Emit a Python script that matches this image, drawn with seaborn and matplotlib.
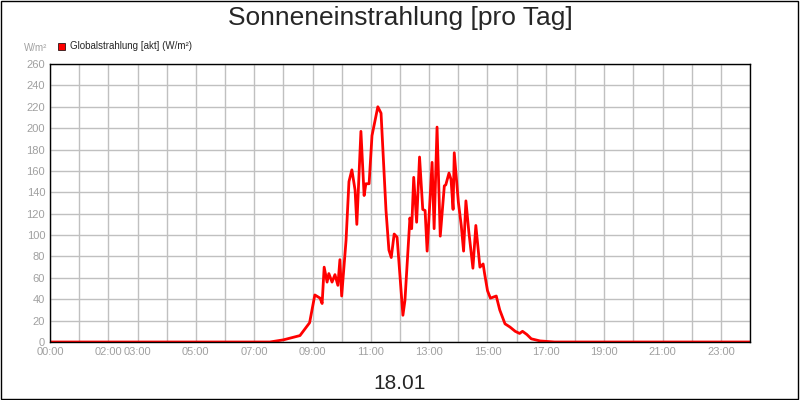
import numpy as np
import pandas as pd
import seaborn as sns
import matplotlib.pyplot as plt
from matplotlib.patches import Rectangle

hours = [0, 7.54, 8.0, 8.57, 8.9, 9.08, 9.26, 9.33, 9.4, 9.5, 9.56, 9.67, 9.77, 9.87, 9.94, 10.0,
         10.15, 10.25, 10.35, 10.46, 10.52, 10.66, 10.77, 10.83, 10.94, 11.04, 11.24, 11.35,
         11.52, 11.62, 11.7, 11.8, 11.9, 12.1, 12.17, 12.34, 12.4, 12.47, 12.57, 12.67, 12.78,
         12.86, 12.93, 13.1, 13.17, 13.27, 13.38, 13.52, 13.57, 13.68, 13.75, 13.82, 13.86,
         14.0, 14.1, 14.18, 14.26, 14.36, 14.5, 14.6, 14.74, 14.85, 14.9, 15.0, 15.1, 15.3,
         15.42, 15.6, 15.77, 15.95, 16.1, 16.2, 16.35, 16.5, 16.8, 17.3, 24]
values = [0, 0, 2, 6, 18, 44, 41, 36, 70, 56, 64, 56, 63, 53, 77, 43,
          95, 150, 161, 142, 110, 197, 137, 148, 148, 193, 220, 214,
          123, 86, 79, 101, 98, 25, 39, 116, 106, 154, 112, 173, 124,
          123, 85, 168, 106, 201, 99, 146, 147, 158, 152, 124, 177,
          131, 109, 85, 132, 103, 69, 109, 70, 73, 64, 48, 41, 43,
          30, 17, 14, 10, 8, 10, 7, 3, 1, 0, 0]
tick_hours = [0, 2, 3, 5, 7, 9, 11, 13, 15, 17, 19, 21, 23]
tick_labels = ["00:00", "02:00", "03:00", "05:00", "07:00", "09:00", "11:00", "13:00",
               "15:00", "17:00", "19:00", "21:00", "23:00"]

df = pd.DataFrame({"hour": hours, "value": values})

sns.set_style("white")
plt.rcParams['font.family'] = ['Liberation Sans', 'DejaVu Sans']
fig = plt.figure(figsize=(8, 4), dpi=100)
ax = fig.add_axes([0.0625, 0.145, 0.875, 0.695])
sns.lineplot(data=df, x="hour", y="value", color="#ff0000", linewidth=2, ax=ax)

ax.set_xlim(0, 24)
ax.set_ylim(0, 260)
ax.set_yticks(range(0, 261, 20))
ax.set_xticks(tick_hours)
ax.set_xticklabels(tick_labels)
ax.set_xticks(range(0, 25), minor=True)
ax.grid(True, which="both", color="#c0c0c0", linewidth=1)
ax.tick_params(axis="both", which="both", length=0, labelsize=8, labelcolor="#a0a0a0")
ax.set_xlabel("18.01", fontsize=15, labelpad=12)
ax.set_ylabel("")
for s in ax.spines.values():
    s.set_color("black")
    s.set_linewidth(1)

fig.text(0.5, 0.955, "Sonneneinstrahlung [pro Tag]", ha="center", va="center", fontsize=19)
fig.text(0.03, 0.88, "W/m²", fontsize=7, color="#a0a0a0", va="center")
fig.patches.append(Rectangle((0.073, 0.875), 0.008, 0.018, transform=fig.transFigure,
                             facecolor="#ff0000", edgecolor="black", linewidth=0.5))
fig.text(0.087, 0.885, "Globalstrahlung [akt] (W/m²)", fontsize=7, va="center")
fig.patches.append(Rectangle((0.001, 0.002), 0.997, 0.996, transform=fig.transFigure,
                             fill=False, edgecolor="black", linewidth=1))

plt.savefig("out.png", dpi=100)
